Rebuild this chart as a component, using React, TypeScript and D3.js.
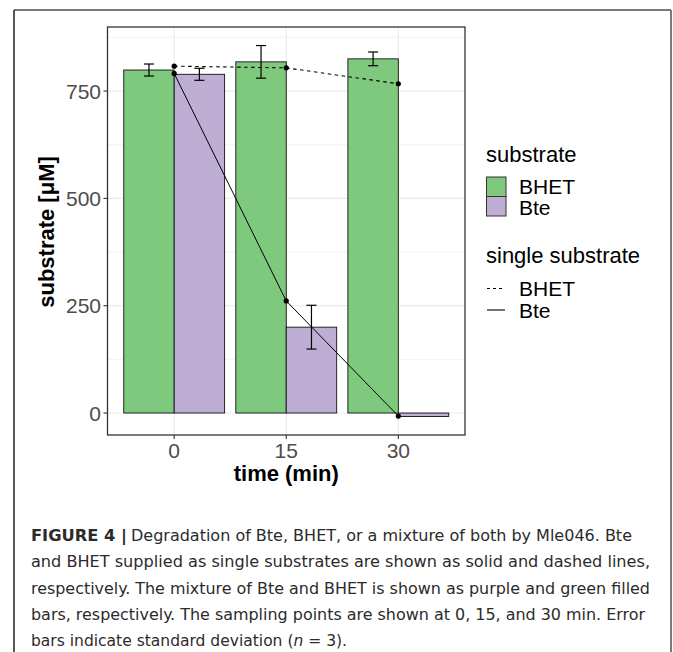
import * as d3 from 'd3';

// sampling times (min)
const times = [0, 15, 30];
const yTicks = [0, 250, 500, 750];
const yMinor = [125, 375, 625, 875];

// mixture of both substrates (bars)
const mixBHET = [799, 818, 825];
const mixBHETsd = [14, 38, 16];
const mixBte = [789, 200, -8];
const mixBteSd = [14, 51, 0];

// single substrates (lines)
const singleBHET = [808, 804, 767];
const singleBte = [791, 261, -7];

const GREEN = '#7FC97F';
const PURPLE = '#BEAED4';

const captionLines = [
  'and BHET supplied as single substrates are shown as solid and dashed lines,',
  'respectively. The mixture of Bte and BHET is shown as purple and green filled',
  'bars, respectively. The sampling points are shown at 0, 15, and 30 min. Error',
];

const App = () => {
  const panel = { left: 107.5, right: 465, top: 27, bottom: 435 };
  const dodge = 6.75; // half of 0.9 * 15

  const xLo = d3.min(times)! - dodge;
  const xHi = d3.max(times)! + dodge;
  const xPad = (xHi - xLo) * 0.05;
  const x = d3.scaleLinear().domain([xLo - xPad, xHi + xPad]).range([panel.left, panel.right]);

  const allY = [
    ...mixBHET.map((v, i) => v + mixBHETsd[i]),
    ...mixBte.map((v, i) => v - mixBteSd[i]),
    ...mixBte.map((v, i) => v + mixBteSd[i]),
    ...singleBHET, ...singleBte, 0,
  ];
  const [yLo, yHi] = d3.extent(allY) as [number, number];
  const yPad = (yHi - yLo) * 0.05;
  const y = d3.scaleLinear().domain([yLo - yPad, yHi + yPad]).range([panel.bottom, panel.top]);

  const line = d3.line<number>().x((_, i) => x(times[i])).y(d => y(d));

  const bars = [
    { vals: mixBHET, sd: mixBHETsd, fill: GREEN, off: -dodge },
    { vals: mixBte, sd: mixBteSd, fill: PURPLE, off: 0 },
  ];
  const cap = 0.2 * dodge;

  const font = 'Liberation Sans, Arial, sans-serif';
  const capFont = '"Liberation Sans Narrow", "DejaVu Sans Condensed", Arial, sans-serif';

  return (
    <svg width={673} height={652} style={{ position: 'absolute', left: 0, top: 0, background: '#fff' }}>
      {/* figure frame */}
      <line x1={14} x2={671} y1={10} y2={10} stroke="#7a7a7a" strokeWidth={2} />
      <line x1={14} x2={14} y1={10} y2={652} stroke="#222" strokeWidth={1.5} />
      <line x1={671} x2={671} y1={10} y2={652} stroke="#7a7a7a" strokeWidth={2} />

      {/* grid */}
      <g>
        {yMinor.map(v => (
          <line key={'m' + v} x1={panel.left} x2={panel.right} y1={y(v)} y2={y(v)} stroke="#EBEBEB" strokeWidth={0.6} />
        ))}
        {yTicks.map(v => (
          <line key={'M' + v} x1={panel.left} x2={panel.right} y1={y(v)} y2={y(v)} stroke="#EBEBEB" strokeWidth={1.2} />
        ))}
        {times.map(t => (
          <line key={'x' + t} x1={x(t)} x2={x(t)} y1={panel.top} y2={panel.bottom} stroke="#EBEBEB" strokeWidth={1.2} />
        ))}
      </g>

      {/* bars */}
      {bars.map((b, k) => (
        <g key={k}>
          {b.vals.map((v, i) => (
            <rect
              key={i}
              x={x(times[i] + b.off)}
              width={x(times[i] + b.off + dodge) - x(times[i] + b.off)}
              y={Math.min(y(v), y(0))}
              height={Math.abs(y(v) - y(0))}
              fill={b.fill}
              stroke="#111"
              strokeWidth={0.9}
            />
          ))}
        </g>
      ))}

      {/* error bars */}
      {bars.map((b, k) => (
        <g key={'e' + k} stroke="#000" strokeWidth={1.2}>
          {b.vals.map((v, i) => {
            if (!b.sd[i]) return null;
            const cx = times[i] + b.off + dodge / 2;
            const lo = y(v - b.sd[i]);
            const hi = y(v + b.sd[i]);
            return (
              <g key={i}>
                <line x1={x(cx)} x2={x(cx)} y1={lo} y2={hi} />
                <line x1={x(cx - cap / 2)} x2={x(cx + cap / 2)} y1={lo} y2={lo} />
                <line x1={x(cx - cap / 2)} x2={x(cx + cap / 2)} y1={hi} y2={hi} />
              </g>
            );
          })}
        </g>
      ))}

      {/* single substrate lines */}
      <path d={line(singleBHET)!} fill="none" stroke="#000" strokeWidth={1.1} strokeDasharray="3.5,3.5" />
      <path d={line(singleBte)!} fill="none" stroke="#000" strokeWidth={1} />
      {[singleBHET, singleBte].map((s, k) =>
        s.map((v, i) => <circle key={k + '-' + i} cx={x(times[i])} cy={y(v)} r={2.6} fill="#000" />)
      )}

      {/* panel border */}
      <rect x={panel.left} y={panel.top} width={panel.right - panel.left} height={panel.bottom - panel.top}
        fill="none" stroke="#333" strokeWidth={1.3} />

      {/* y axis */}
      {yTicks.map(v => (
        <g key={'yt' + v}>
          <line x1={panel.left - 4} x2={panel.left} y1={y(v)} y2={y(v)} stroke="#333" strokeWidth={1.1} />
          <text x={panel.left - 6.5} y={y(v)} dy="0.36em" textAnchor="end" fontFamily={font} fontSize={21} fill="#4D4D4D">
            {v}
          </text>
        </g>
      ))}
      {/* x axis */}
      {times.map(t => (
        <g key={'xt' + t}>
          <line x1={x(t)} x2={x(t)} y1={panel.bottom} y2={panel.bottom + 4} stroke="#333" strokeWidth={1.1} />
          <text x={x(t)} y={458} textAnchor="middle" fontFamily={font} fontSize={21} fill="#4D4D4D">
            {t}
          </text>
        </g>
      ))}

      <text x={(panel.left + panel.right) / 2} y={481} textAnchor="middle" fontFamily={font} fontSize={22} fontWeight="bold" fill="#000">
        time (min)
      </text>
      <text transform="translate(54,232) rotate(-90)" textAnchor="middle" fontFamily={font} fontSize={22} fontWeight="bold" fill="#000">
        substrate [μM]
      </text>

      {/* legend */}
      <g fontFamily={font} fill="#000">
        <text x={486} y={162} fontSize={22}>substrate</text>
        <rect x={486.5} y={177} width={19.5} height={19.5} fill={GREEN} stroke="#333" strokeWidth={1} />
        <rect x={486.5} y={196.5} width={19.5} height={19.5} fill={PURPLE} stroke="#333" strokeWidth={1} />
        <text x={519} y={194} fontSize={21}>BHET</text>
        <text x={519} y={215} fontSize={21}>Bte</text>

        <text x={486} y={262.5} fontSize={22}>single substrate</text>
        <line x1={487} x2={505} y1={288.5} y2={288.5} stroke="#000" strokeWidth={1.1} strokeDasharray="3,3" />
        <line x1={487} x2={505} y1={310} y2={310} stroke="#000" strokeWidth={1.1} />
        <text x={519} y={295.5} fontSize={21}>BHET</text>
        <text x={519} y={317.5} fontSize={21}>Bte</text>
      </g>

      {/* caption */}
      <g fontFamily={capFont} fontSize={16.5} fill="#2b2b2b">
        <text x={31} y={541} fontWeight="bold" textLength={96} lengthAdjust="spacingAndGlyphs">FIGURE 4 |</text>
        <text x={131} y={541} textLength={501} lengthAdjust="spacingAndGlyphs">
          Degradation of Bte, BHET, or a mixture of both by Mle046. Bte
        </text>
        {captionLines.map((l, i) => (
          <text key={i} x={31} y={541 + 26.25 * (i + 1)} textLength={[619, 619, 614][i]} lengthAdjust="spacingAndGlyphs">
            {l}
          </text>
        ))}
        <text x={31} y={646} textLength={316} lengthAdjust="spacingAndGlyphs">
          bars indicate standard deviation (<tspan fontStyle="italic">n</tspan> = 3).
        </text>
      </g>
    </svg>
  );
};

export default App;
